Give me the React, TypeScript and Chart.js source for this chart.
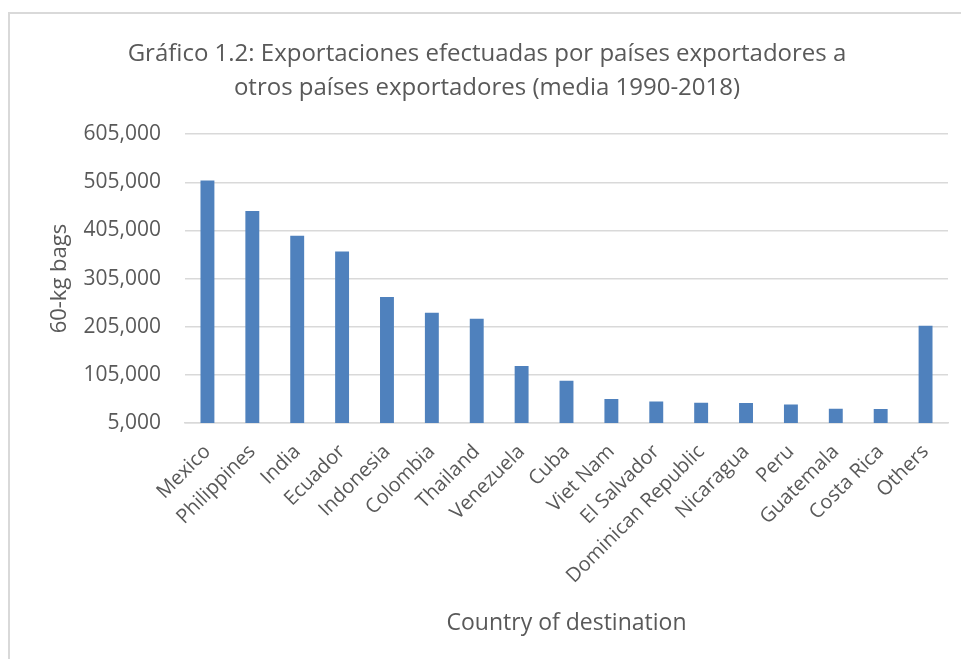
import React, { useEffect, useRef } from "react";
import { Chart, registerables } from "chart.js";

Chart.register(...registerables);

const categories = [
  "Mexico",
  "Philippines",
  "India",
  "Ecuador",
  "Indonesia",
  "Colombia",
  "Thailand",
  "Venezuela",
  "Cuba",
  "Viet Nam",
  "El Salvador",
  "Dominican Republic",
  "Nicaragua",
  "Peru",
  "Guatemala",
  "Costa Rica",
  "Others",
];

const exportsBags = [
  508700, 445200, 394200, 361100, 266500, 234000, 221600, 123600, 92600,
  54700, 49700, 47000, 46400, 43500, 34600, 34000, 207100,
];

const yMin = 5000;
const yMax = 605000;
const yStep = 100000;

const titleLines = [
  "Gráfico 1.2: Exportaciones efectuadas por países exportadores a",
  "otros países exportadores (media 1990-2018)",
];
const yAxisTitle = "60-kg bags";
const xAxisTitle = "Country of destination";

const FONT = "'Open Sans', 'Noto Sans', sans-serif";
const TEXT = "#595959";
const GRID = "#d9d9d9";
const BAR = "#4f81bd";

export default function App() {
  const ref = useRef<HTMLCanvasElement>(null);

  useEffect(() => {
    document.body.style.overflow = "hidden";
    const frame = {
      id: "frame",
      beforeDraw(chart: any) {
        const ctx = chart.ctx;
        ctx.save();
        ctx.fillStyle = "#ffffff";
        ctx.fillRect(0, 0, chart.width, chart.height);
        ctx.strokeStyle = GRID;
        ctx.lineWidth = 2;
        ctx.beginPath();
        ctx.moveTo(9, chart.height);
        ctx.lineTo(9, 13);
        ctx.lineTo(chart.width, 13);
        ctx.stroke();
        ctx.restore();
      },
    };

    const chart = new Chart(ref.current as HTMLCanvasElement, {
      type: "bar",
      data: {
        labels: categories,
        datasets: [
          {
            data: exportsBags,
            backgroundColor: BAR,
            borderWidth: 0,
            barPercentage: 0.31,
            categoryPercentage: 1,
          },
        ],
      },
      options: {
        responsive: false,
        animation: false,
        layout: { padding: { left: 14, right: 1, top: 0, bottom: 22 } },
        plugins: {
          legend: { display: false },
          tooltip: { enabled: false },
          title: {
            display: true,
            text: titleLines,
            color: TEXT,
            font: { family: FONT, size: 24, weight: "normal", lineHeight: 1.42 },
            padding: { top: 37, bottom: 29 },
          },
        },
        scales: {
          x: {
            grid: { display: false },
            border: { display: true, color: GRID, width: 1.5 },
            ticks: {
              color: TEXT,
              font: { family: FONT, size: 20 },
              minRotation: 45,
              maxRotation: 45,
              autoSkip: false,
              padding: 9,
            },
            title: {
              display: true,
              text: xAxisTitle,
              color: TEXT,
              font: { family: FONT, size: 23 },
              padding: { top: 0, bottom: 0 },
            },
            afterFit(scale: any) {
              scale.height = 659 - 423 - 22;
            },
          },
          y: {
            min: yMin,
            max: yMax,
            grid: { color: GRID, lineWidth: 1.5, drawTicks: false },
            border: { display: false },
            ticks: {
              stepSize: yStep,
              color: TEXT,
              font: { family: FONT, size: 21 },
              padding: 24,
              callback: (v: any) => Number(v).toLocaleString("en-US"),
            },
            title: {
              display: true,
              text: yAxisTitle,
              color: TEXT,
              font: { family: FONT, size: 22 },
              padding: { top: 33, bottom: 0 },
            },
            afterFit(scale: any) {
              scale.width = 185 - 14;
            },
          },
          spacer: {
            type: "linear",
            position: "right",
            display: true,
            grid: { display: false },
            border: { display: false },
            ticks: { display: false },
            afterFit(scale: any) {
              scale.width = 12;
            },
          },
        },
      },
      plugins: [frame],
    });
    return () => chart.destroy();
  }, []);

  return (
    <canvas
      ref={ref}
      width={961}
      height={659}
      style={{ position: "fixed", left: 0, top: 0, width: 961, height: 659 }}
    />
  );
}
